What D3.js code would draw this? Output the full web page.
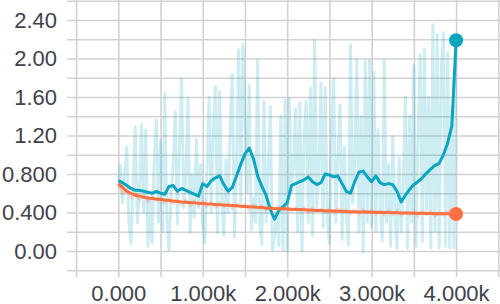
<!DOCTYPE html>
<html>
<head>
<meta charset="utf-8">
<script src="https://cdn.jsdelivr.net/npm/d3@7"></script>
<style>
  body { margin: 0; background: #fff; }
  svg { display: block; }
  .grid line { stroke: #d2d2d2; stroke-width: 1.6; }
  .grid path { display: none; }
  .lab path, .lab line { display: none; }
  .lab text { font-family: "Liberation Sans", Arial, sans-serif; font-size: 22px; fill: #41414c; }
</style>
</head>
<body>
<svg id="chart" width="500" height="304"></svg>
<script>
// raw values of the cyan run, one every 25 steps
var rawStep = 25;
var rawCyan = [
  0.72, 0.89, 0.50, 0.78, 1.08, 0.30, 0.08, 0.70, 1.29, 0.29,
  0.62, 1.31, 0.40, 1.26, 0.05, 0.55, 0.08, 0.95, 1.36, 0.30,
  1.15, 0.20, 1.64, 0.35, 0.01, 0.60, 0.90, 1.45, 0.28, 1.10,
  1.79, 0.45, 0.75, 1.59, 0.19, 0.80, 0.35, 1.16, 0.45, 0.90,
  0.30, 0.08, 0.85, 1.60, 0.40, 1.30, 1.71, 0.19, 1.66, 0.55,
  0.16, 0.95, 0.40, 1.30, 1.83, 0.14, 0.90, 2.09, 0.50, 2.14,
  1.40, 0.60, 1.72, 0.22, 0.55, 0.30, 1.98, 0.25, 0.07, 1.55,
  0.30, 0.80, 1.50, 0.01, 0.15, 0.40, 0.05, 1.40, 0.01, 1.57,
  0.00, 1.58, 0.60, 0.90, 1.48, 0.20, 1.54, 0.00, 1.20, 1.56,
  0.30, 1.69, 0.16, 2.19, 0.45, 0.85, 1.74, 0.25, 1.70, 0.35,
  0.08, 1.20, 1.79, 0.30, 0.95, 1.52, 0.12, 1.08, 0.40, 0.06,
  2.14, 0.50, 0.90, 2.00, 0.20, 1.40, -0.01, 1.97, 0.30, 1.98,
  0.25, 1.86, 0.20, 1.26, 0.50, 0.10, 1.98, 0.30, 0.90, 0.05,
  1.19, 0.40, 0.03, 0.97, 0.20, 0.70, 1.60, 0.03, 1.40, 0.30,
  1.93, 0.05, 1.20, 2.04, 0.10, 2.09, 0.40, 1.60, 0.03, 2.35,
  0.20, 2.25, 0.03, 1.90, 2.27, 0.05, 2.06, 0.03, 1.50, 0.03,
  2.25
];

// smoothed lines, one value every 50 steps
var smoothStep = 50;
var smoothCyan = [
  0.73, 0.71, 0.68, 0.65, 0.63, 0.63, 0.62, 0.61, 0.60, 0.62,
  0.60, 0.59, 0.67, 0.68, 0.62, 0.65, 0.63, 0.61, 0.59, 0.57,
  0.70, 0.67, 0.73, 0.76, 0.78, 0.69, 0.62, 0.66, 0.78, 0.90,
  1.01, 1.07, 0.96, 0.78, 0.67, 0.58, 0.43, 0.33, 0.42, 0.46,
  0.50, 0.68, 0.70, 0.72, 0.74, 0.77, 0.72, 0.69, 0.71, 0.80,
  0.79, 0.77, 0.78, 0.70, 0.62, 0.60, 0.72, 0.82, 0.83, 0.77,
  0.72, 0.78, 0.71, 0.69, 0.70, 0.69, 0.62, 0.51, 0.58, 0.64,
  0.69, 0.72, 0.76, 0.81, 0.85, 0.89, 0.91, 1.00, 1.12, 1.30,
  2.19
];
var smoothOrange = [
  0.70, 0.66, 0.62, 0.60, 0.58, 0.57, 0.56, 0.55, 0.545, 0.54,
  0.535, 0.53, 0.525, 0.52, 0.515, 0.51, 0.507, 0.503, 0.50, 0.497,
  0.494, 0.49, 0.487, 0.484, 0.481, 0.478, 0.475, 0.472, 0.469, 0.466,
  0.463, 0.46, 0.457, 0.454, 0.451, 0.448, 0.445, 0.442, 0.44, 0.438,
  0.436, 0.434, 0.432, 0.43, 0.428, 0.426, 0.424, 0.422, 0.42, 0.418,
  0.416, 0.415, 0.414, 0.412, 0.41, 0.409, 0.408, 0.406, 0.405, 0.404,
  0.403, 0.402, 0.401, 0.40, 0.399, 0.398, 0.397, 0.396, 0.395, 0.394,
  0.393, 0.392, 0.391, 0.39, 0.389, 0.388, 0.387, 0.386, 0.386, 0.385,
  0.385
];
var rawOrange = [
  0.68, 0.60, 0.64, 0.55, 0.60, 0.53, 0.58, 0.51, 0.57, 0.52,
  0.55, 0.50, 0.54, 0.49, 0.53, 0.48, 0.53, 0.47, 0.52, 0.48,
  0.51, 0.46, 0.51, 0.45, 0.50, 0.46, 0.49, 0.44, 0.49, 0.45,
  0.48, 0.43, 0.48, 0.44, 0.47, 0.42, 0.47, 0.43, 0.46, 0.42,
  0.46, 0.41, 0.45, 0.42, 0.45, 0.40, 0.45, 0.41, 0.44, 0.40,
  0.44, 0.39, 0.44, 0.40, 0.43, 0.39, 0.43, 0.38, 0.43, 0.39,
  0.42, 0.38, 0.42, 0.37, 0.42, 0.38, 0.42, 0.37, 0.41, 0.38,
  0.41, 0.36, 0.41, 0.37, 0.41, 0.36, 0.40, 0.37, 0.41, 0.36,
  0.39
];

// ticks
var xGrid = [-500, 0, 500, 1000, 1500, 2000, 2500, 3000, 3500, 4000, 4500];
var xTicks = [0, 1000, 2000, 3000, 4000];
var xLabels = ["0.000", "1.000k", "2.000k", "3.000k", "4.000k"];
var yGrid = [-0.2, 0, 0.2, 0.4, 0.6, 0.8, 1.0, 1.2, 1.4, 1.6, 1.8, 2.0, 2.2, 2.4, 2.6];
var yTicks = [0, 0.4, 0.8, 1.2, 1.6, 2.0, 2.4];
var yLabels = ["0.00", "0.400", "0.800", "1.20", "1.60", "2.00", "2.40"];

var cyan = "#0aa5c1", orange = "#ff7043";

var svg = d3.select("#chart");
var x = d3.scaleLinear().domain([-500, 4500]).range([76.1, 498.3]);
var y = d3.scaleLinear().domain([-0.2, 2.6]).range([270.25, 0.75]);

/* grid */
svg.append("g").attr("class", "grid")
    .call(d3.axisBottom(x).tickValues(xGrid).tickSize(277).tickFormat(""));
svg.append("g").attr("class", "grid")
    .attr("transform", "translate(67,0)")
    .call(d3.axisRight(y).tickValues(yGrid).tickSize(433).tickFormat(""));

/* labels */
svg.append("g").attr("class", "lab")
    .attr("transform", "translate(57,0)")
    .call(d3.axisLeft(y).tickValues(yTicks).tickSize(0).tickPadding(0)
        .tickFormat(function(d, i) { return yLabels[i]; }));
svg.append("g").attr("class", "lab")
    .attr("transform", "translate(0,279)")
    .call(d3.axisBottom(x).tickValues(xTicks).tickSize(0).tickPadding(6.5)
        .tickFormat(function(d, i) { return xLabels[i]; }));

function lineFor(step) {
    return d3.line()
        .x(function(d, i) { return x(i * step); })
        .y(function(d) { return y(d); });
}

svg.append("path").datum(rawCyan)
    .attr("d", lineFor(rawStep))
    .attr("fill", "none").attr("stroke", cyan)
    .attr("stroke-opacity", 0.2).attr("stroke-width", 3)
    .attr("stroke-linejoin", "round");

svg.append("path").datum(rawOrange)
    .attr("d", lineFor(smoothStep))
    .attr("fill", "none").attr("stroke", orange)
    .attr("stroke-opacity", 0.25).attr("stroke-width", 2.5);

svg.append("path").datum(smoothCyan)
    .attr("d", lineFor(smoothStep))
    .attr("fill", "none").attr("stroke", cyan)
    .attr("stroke-width", 3).attr("stroke-linejoin", "round");

svg.append("path").datum(smoothOrange)
    .attr("d", lineFor(smoothStep))
    .attr("fill", "none").attr("stroke", orange)
    .attr("stroke-width", 3).attr("stroke-linejoin", "round");

/* end dots */
var last = (smoothCyan.length - 1) * smoothStep;
svg.append("circle").attr("cx", x(last)).attr("cy", y(smoothCyan[smoothCyan.length - 1]))
    .attr("r", 7).attr("fill", cyan);
svg.append("circle").attr("cx", x(last)).attr("cy", y(smoothOrange[smoothOrange.length - 1]))
    .attr("r", 7).attr("fill", orange);
</script>
</body>
</html>
